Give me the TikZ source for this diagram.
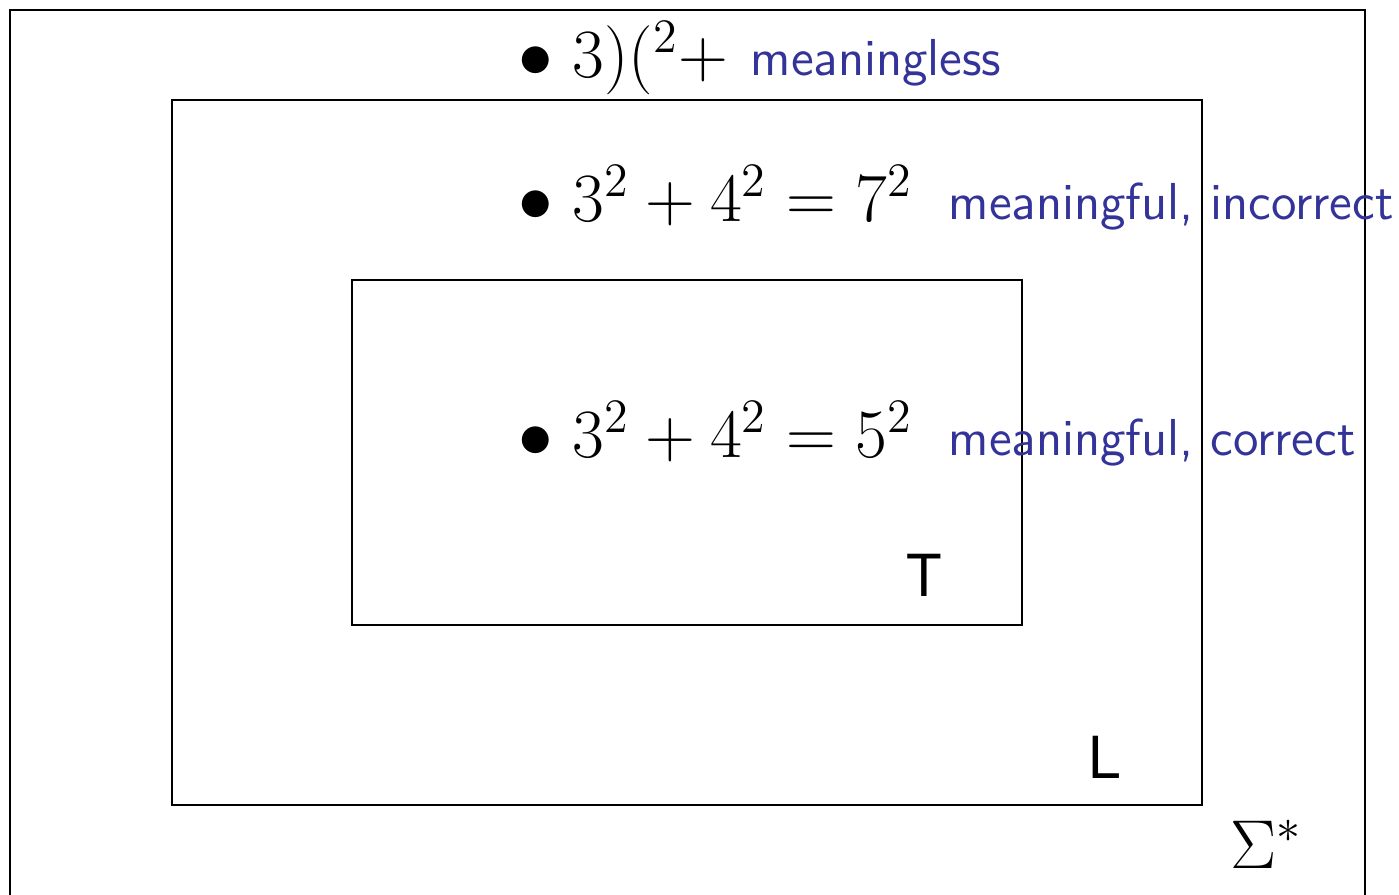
\documentclass[tikz,border=0pt]{standalone}
\usepackage{fontspec}
\newfontfamily\helv{TeX Gyre Heros}
\usetikzlibrary{positioning}
\definecolor{structblue}{RGB}{51,51,153}

\begin{document}
\begin{tikzpicture}[
  x=0.25pt, y=-0.25pt,
  region/.style={draw, line width=0.5pt},
  formula/.style={anchor=base west, inner sep=0pt, font=\LARGE},
  note/.style={anchor=base west, inner sep=0pt, font=\sffamily\fontsize{13}{16}\selectfont, text=structblue},
  tag/.style={anchor=base west, inner sep=0pt, font=\helv\fontsize{14.5}{17}\selectfont}
]
\useasboundingbox (0,0) rectangle (1399,895);

% the three nested sets
\draw[region] (10,10) rectangle (1365,920);
\draw[region] (172,100) rectangle (1202,805);
\draw[region] (352,280) rectangle (1022,625);

% strings and what they are
\node[formula] (garbage) at (518,78) {$\bullet\;3)(^2+$};
\node[note] (garbagenote) at (750,76) {meaningless};
\node[formula] (wrong) at (518,222) {$\bullet\;3^2+4^2=7^2$};
\node[note] (wrongnote) at (948,220) {meaningful, incorrect};
\node[formula] (right) at (518,458) {$\bullet\;3^2+4^2=5^2$};
\node[note] (rightnote) at (948,456) {meaningful, correct};

% set names
\node[tag] (tset) at (906,597) {T};
\node[tag] (lset) at (1088,778) {L};
\node[formula] (sigma) at (1230,868) {$\Sigma^*$};

\end{tikzpicture}
\end{document}
